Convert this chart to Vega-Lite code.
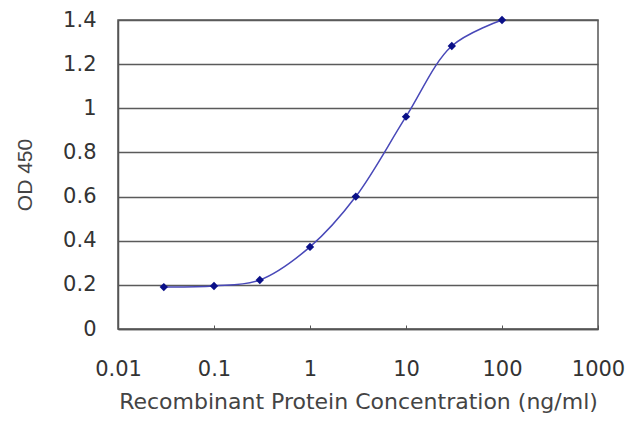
{
  "$schema": "https://vega.github.io/schema/vega-lite/v6.json",
  "autosize": "none",
  "padding": {"left": 118, "top": 20, "right": 42, "bottom": 98},
  "width": 480,
  "height": 309,
  "background": "white",
  "data": {
    "values": [
      {"conc": 0.03, "od": 0.19},
      {"conc": 0.1, "od": 0.195},
      {"conc": 0.3, "od": 0.222},
      {"conc": 1, "od": 0.372},
      {"conc": 3, "od": 0.6},
      {"conc": 10, "od": 0.962},
      {"conc": 30, "od": 1.282},
      {"conc": 100, "od": 1.4}
    ]
  },
  "encoding": {
    "x": {
      "field": "conc",
      "type": "quantitative",
      "scale": {"type": "log", "domain": [0.01, 1000], "nice": false},
      "axis": {
        "title": "Recombinant Protein Concentration (ng/ml)",
        "values": [0.01, 0.1, 1, 10, 100, 1000],
        "format": "~g",
        "grid": false,
        "domainColor": "#555",
        "domainWidth": 1.5,
        "tickColor": "#555",
        "tickSize": -4,
        "labelPadding": 33,
        "labelFont": "DejaVu Sans",
        "labelFontSize": 21,
        "labelColor": "#333",
        "labelFlush": false,
        "titleFont": "DejaVu Sans",
        "titleFontSize": 22,
        "titleFontWeight": "normal",
        "titleColor": "#444",
        "titlePadding": 12
      }
    },
    "y": {
      "field": "od",
      "type": "quantitative",
      "scale": {"domain": [0, 1.4], "nice": false},
      "axis": {
        "title": "OD 450",
        "values": [0, 0.2, 0.4, 0.6, 0.8, 1, 1.2, 1.4],
        "format": "~g",
        "grid": true,
        "gridColor": "#5a5a5a",
        "gridWidth": 1.6,
        "domainColor": "#555",
        "domainWidth": 1.5,
        "ticks": false,
        "labelPadding": 22,
        "labelFont": "DejaVu Sans",
        "labelFontSize": 21,
        "labelColor": "#333",
        "labelFlush": false,
        "titleFont": "Liberation Sans",
        "titleFontSize": 21,
        "titleFontWeight": "normal",
        "titleColor": "#444",
        "titlePadding": 27
      }
    }
  },
  "layer": [
    {
      "mark": {"type": "line", "interpolate": "catmull-rom", "color": "#4848b8", "strokeWidth": 1.5}
    },
    {
      "mark": {"type": "point", "shape": "diamond", "filled": true, "size": 70, "color": "#0a1088", "opacity": 1}
    }
  ],
  "config": {
    "font": "Liberation Sans",
    "view": {"stroke": "#555", "strokeWidth": 1.5}
  }
}
